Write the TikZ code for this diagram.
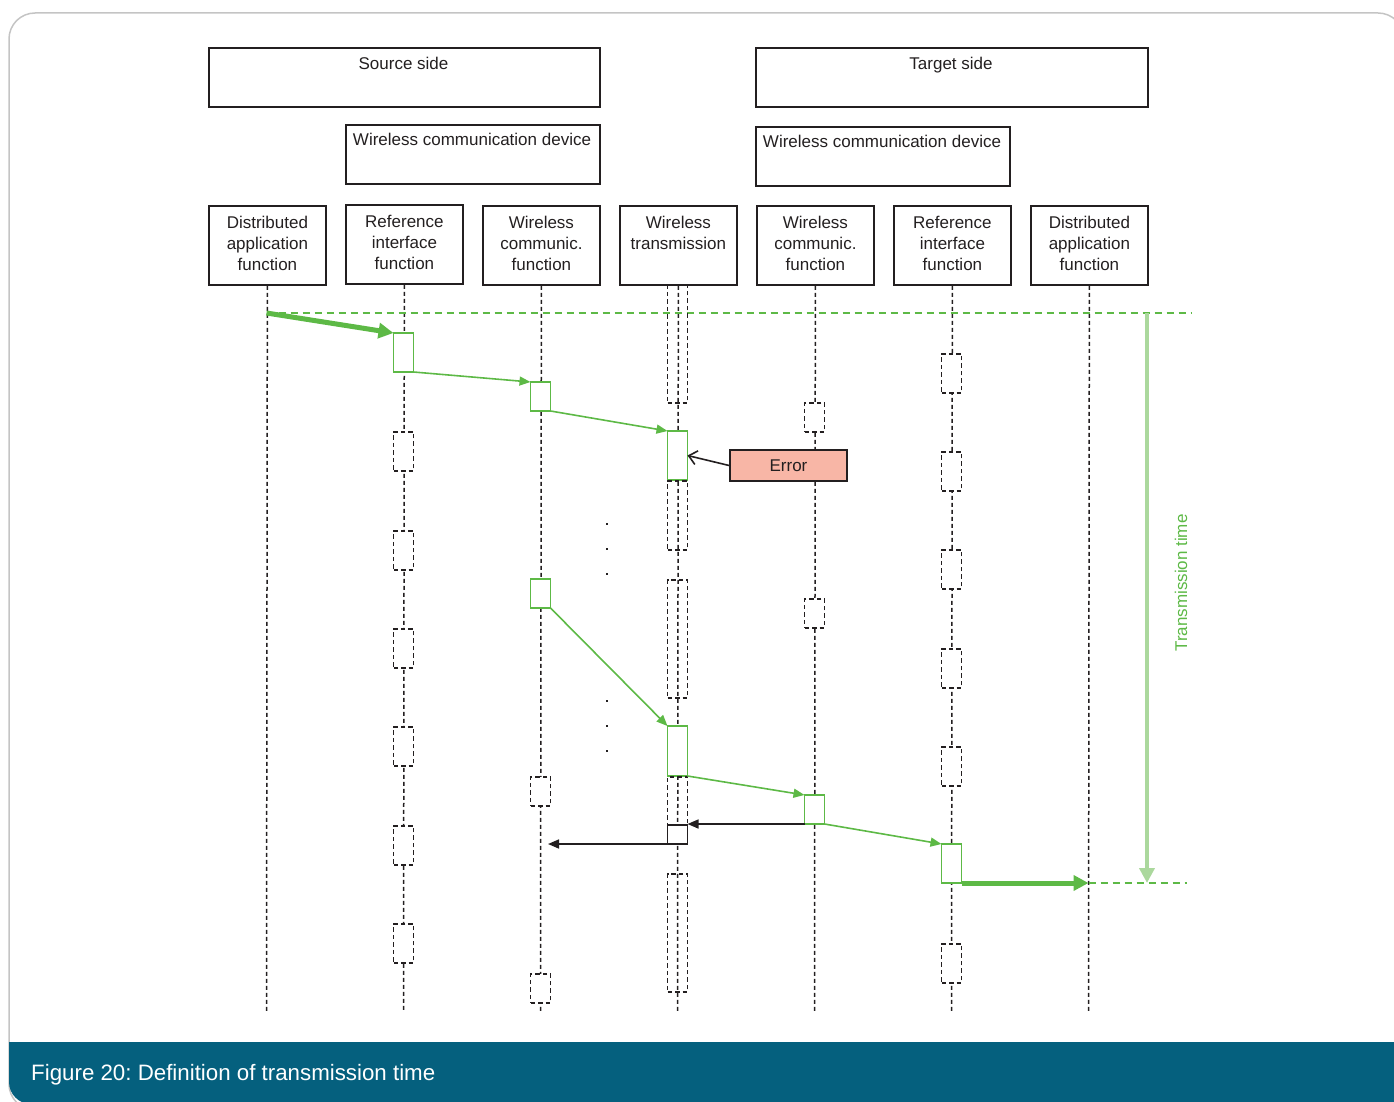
\documentclass[tikz,border=0pt]{standalone}
\usepackage{fontspec}
\setmainfont{Liberation Sans}
\usetikzlibrary{arrows.meta}
\definecolor{grn}{HTML}{5DB946}
\definecolor{lgrn}{HTML}{ABD89D}
\definecolor{ink}{HTML}{231F20}
\definecolor{errfill}{HTML}{F8B6A6}
\definecolor{capbar}{HTML}{05607E}
\definecolor{framegray}{HTML}{C4C4C4}
\frenchspacing

\begin{document}
\begin{tikzpicture}[x=1pt,y=-1pt,
  font=\fontsize{17}{21}\selectfont,
  box/.style={draw=ink, line width=1.8pt, inner sep=0pt, anchor=north west},
  fnbox/.style={box, minimum width=117pt, minimum height=79pt},
  lbl/.style={inner sep=0pt, text=ink, align=center, anchor=north, yshift=-10.6pt},
  hdr/.style={inner sep=0pt, text=ink, anchor=base},
  lifeline/.style={draw=ink, line width=1.5pt, dash pattern=on 4pt off 3pt},
  ghost/.style={draw=ink, line width=1.5pt, dash pattern=on 4.5pt off 3pt, fill=white,
    minimum width=20pt, inner sep=0pt, anchor=north},
  wtghost/.style={ghost, fill=none},
  act/.style={draw=grn, line width=1.8pt, fill=white, minimum width=20pt, inner sep=0pt, anchor=north, outer sep=0pt},
  gdash/.style={draw=grn, line width=1.5pt, dash pattern=on 7pt off 5pt},
  flow/.style={draw=grn, line width=1.6pt, -{Triangle[length=11pt,width=9pt]}},
  bigflow/.style={draw=grn, line width=5pt, -{Triangle[length=15pt,width=15pt]}},
  backflow/.style={draw=ink, line width=1.6pt, -{Triangle[length=11pt,width=9pt]}},
  errarrow/.style={draw=ink, line width=1.6pt, -{Straight Barb[length=8pt,width=14pt]}},
  span/.style={draw=lgrn, line width=4.5pt, -{Triangle[length=15pt,width=15pt]}}
]
\useasboundingbox (0,0) rectangle (1394,1102);
\clip (0,0) rectangle (1394,1102);

% page frame and caption bar
\draw[framegray, line width=1.5pt, rounded corners=26pt] (9,13) rectangle (1404,1110);
\fill[capbar] (1400,1042) -- (9,1042) [rounded corners=22pt] -- (9,1104) [sharp corners] -- (1400,1104) -- cycle;
\node[anchor=base west, text=white, font=\fontsize{22.3}{26}\selectfont, inner sep=0pt] (cap) at (31,1080)
  {Figure 20: Definition of transmission time};

% grouping boxes
\node[box, minimum width=391pt, minimum height=59pt] (srcside) at (208,47) {};
\node[hdr] at (403.5,70) {Source side};
\node[box, minimum width=392pt, minimum height=59pt] (tgtside) at (755,47) {};
\node[hdr] at (951,70) {Target side};
\node[box, minimum width=254pt, minimum height=59pt] (srcdev) at (345,124) {};
\node[hdr] at (472,146) {Wireless communication device};
\node[box, minimum width=254pt, minimum height=59pt] (tgtdev) at (755,126) {};
\node[hdr] at (882,148) {Wireless communication device};

% function boxes
\node[fnbox] (daf1) at (208,205) {};
\node[fnbox] (rif1) at (345,204) {};
\node[fnbox] (wcf1) at (482,205) {};
\node[fnbox] (wt)   at (619,205) {};
\node[fnbox] (wcf2) at (756,205) {};
\node[fnbox] (rif2) at (893,205) {};
\node[fnbox] (daf2) at (1030,205) {};
\node[lbl] at (daf1.north) {Distributed\\application\\function};
\node[lbl] at (rif1.north) {Reference\\interface\\function};
\node[lbl] at (wcf1.north) {Wireless\\communic.\\function};
\node[lbl] at (wt.north)   {Wireless\\transmission};
\node[lbl] at (wcf2.north) {Wireless\\communic.\\function};
\node[lbl] at (rif2.north) {Reference\\interface\\function};
\node[lbl] at (daf2.north) {Distributed\\application\\function};

% lifelines
\coordinate (e1) at (266.5,1012);
\coordinate (e2) at (403.5,1012);
\coordinate (e3) at (540.5,1012);
\coordinate (e4) at (677.5,1012);
\coordinate (e5) at (814.5,1012);
\coordinate (e6) at (951.5,1012);
\coordinate (e7) at (1088.5,1012);
\draw[lifeline] (daf1) -- (e1);
\draw[lifeline] (rif1) -- (e2);
\draw[lifeline] (wcf1) -- (e3);
\draw[lifeline] (wt)   -- (e4);
\draw[lifeline] (wcf2) -- (e5);
\draw[lifeline] (rif2) -- (e6);
\draw[lifeline] (daf2) -- (e7);

% start and end markers of the transmission time
\coordinate (s0) at (266.5,313);
\coordinate (s1) at (1192,313);
\coordinate (d0) at (1088.5,883);
\coordinate (d1) at (1187,883);
\coordinate (tt0) at (1147,313);
\coordinate (tt1) at (1147,883);
\draw[gdash] (s0) -- (s1);
\draw[gdash] (d0) -- (d1);

% source reference interface
\node[act, minimum height=39pt] (ra0) at (403.5,333) {};
\node[ghost, minimum height=39pt] (rg1) at (403.5,431) {};
\node[ghost, minimum height=39pt] (rg2) at (403.5,530) {};
\node[ghost, minimum height=39pt] (rg3) at (403.5,628) {};
\node[ghost, minimum height=39pt] (rg4) at (403.5,726) {};
\node[ghost, minimum height=39pt] (rg5) at (403.5,825) {};
\node[ghost, minimum height=39pt] (rg6) at (403.5,923) {};

% source wireless communication function
\node[act, minimum height=29pt] (wa0) at (540.5,382) {};
\node[act, minimum height=29pt] (wa1) at (540.5,579) {};
\node[ghost, minimum height=29pt] (wg1) at (540.5,776) {};
\node[ghost, minimum height=29pt] (wg2) at (540.5,973) {};

% wireless transmission
\node[wtghost, minimum height=118pt] (tg1) at (677.5,284) {};
\node[act, minimum height=49pt] (ta0) at (677.5,431) {};
\node[wtghost, minimum height=69pt] (tg2) at (677.5,480) {};
\node[wtghost, minimum height=118pt] (tg3) at (677.5,579) {};
\node[act, minimum height=50pt] (ta1) at (677.5,726) {};
\node[wtghost, minimum height=49pt] (tg4) at (677.5,776) {};
\node[draw=ink, line width=1.8pt, fill=white, minimum width=20pt, minimum height=19pt, inner sep=0pt, outer sep=0pt, anchor=north] (tb) at (677.5,825) {};
\node[wtghost, minimum height=118pt] (tg5) at (677.5,873) {};

% target wireless communication function
\node[ghost, minimum height=29pt] (xg1) at (814.5,402) {};
\node[ghost, minimum height=29pt] (xg2) at (814.5,598) {};
\node[act, minimum height=29pt] (wt0) at (814.5,795) {};

% target reference interface
\node[ghost, minimum height=39pt] (yg1) at (951.5,353) {};
\node[ghost, minimum height=39pt] (yg2) at (951.5,451) {};
\node[ghost, minimum height=39pt] (yg3) at (951.5,549) {};
\node[ghost, minimum height=39pt] (yg4) at (951.5,648) {};
\node[ghost, minimum height=39pt] (yg5) at (951.5,746) {};
\node[act, minimum height=39pt] (rt0) at (951.5,844) {};
\node[ghost, minimum height=39pt] (yg6) at (951.5,943) {};

% error marker
\node[draw=ink, line width=1.8pt, fill=errfill, text=ink, minimum width=117pt, minimum height=31pt, inner sep=0pt] (err) at (788.5,465.5) {Error};
\draw[errarrow] (err.west) -- (ta0.east);

% message flow
\draw[bigflow] (s0) -- (ra0.north west);
\draw[flow] (ra0.south east) -- (wa0.north west);
\draw[flow] (wa0.south east) -- (ta0.north west);
\draw[flow] (wa1.south east) -- (ta1.north west);
\draw[flow] (ta1.south east) -- (wt0.north west);
\draw[flow] (wt0.south east) -- (rt0.north west);
\draw[bigflow] (rt0.south east) -- (d0);

% acknowledgement path
\coordinate (ackend) at (548,844);
\draw[backflow] (wt0.south west) -- (tb.east |- wt0.south west);
\draw[backflow] (tb.south west) -- (ackend);

% transmission time span
\draw[span] (tt0) -- (tt1);
\node[rotate=90, text=grn, inner sep=0pt] (ttl) at (1181,583) {Transmission time};

% ellipsis dots
\foreach \yy in {524,549,574,701,726,751}
  \fill[ink] (606,\yy-1) rectangle (608,\yy+1);
\end{tikzpicture}
\end{document}
